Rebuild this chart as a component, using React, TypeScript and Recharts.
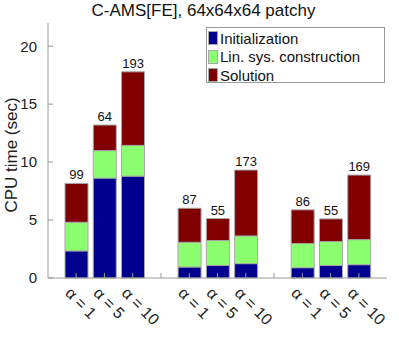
import React from "react";
import { BarChart, Bar, XAxis, YAxis, LabelList } from "recharts";

// run setups: three groups of alpha values, blank slots between groups
const categories = ["α = 1", "α = 5", "α = 10", "", "α = 1", "α = 5", "α = 10", "", "α = 1", "α = 5", "α = 10"];
const initTime = [2.34, 8.62, 8.79, null, 0.95, 1.09, 1.24, null, 0.89, 1.09, 1.15];
const linSysTime = [2.47, 2.37, 2.65, null, 2.13, 2.14, 2.39, null, 2.08, 2.05, 2.16];
const solutionTime = [3.35, 2.21, 6.35, null, 2.94, 1.9, 5.68, null, 2.91, 1.96, 5.57];
const iterations = [99, 64, 193, null, 87, 55, 173, null, 86, 55, 169];
const yTicks = [0, 5, 10, 15, 20];

const series = [
  { key: "init", name: "Initialization", color: "#00008f" },
  { key: "lin", name: "Lin. sys. construction", color: "#8cff70" },
  { key: "sol", name: "Solution", color: "#800000" },
];

const data = categories.map((name, i) => ({
  name,
  init: initTime[i],
  lin: linSysTime[i],
  sol: solutionTime[i],
  iters: iterations[i],
}));

const FONT = "'Liberation Sans', Arial, Helvetica, sans-serif";
const AXIS = "#999999";

const AlphaTick = (props: any) => {
  const { x, payload } = props;
  if (!payload.value) return null;
  const tx = x - 12;
  const ty = 294;
  return (
    <text
      x={tx}
      y={ty}
      transform={`rotate(45 ${tx} ${ty})`}
      fontSize={16}
      fill="#222"
      fontFamily={FONT}
      textAnchor="start"
      style={{ whiteSpace: "pre" }}
    >
      {payload.value}
    </text>
  );
};

export default function App() {
  return (
    <div style={{ position: "absolute", left: 0, top: 0, width: 399, height: 338, fontFamily: FONT, background: "#fff" }}>
      <div style={{ position: "absolute", left: 0, top: 1, width: 407, textAlign: "center", fontSize: 17, lineHeight: "20px", color: "#111" }}>
        C-AMS[FE], 64x64x64 patchy
      </div>
      <div
        style={{
          position: "absolute",
          left: 12,
          top: 155,
          transform: "translate(-50%, -50%) rotate(-90deg)",
          fontSize: 17,
          whiteSpace: "nowrap",
          color: "#222",
        }}
      >
        CPU time (sec)
      </div>
      <BarChart width={399} height={338} data={data} margin={{ top: 23, right: 12, left: 0, bottom: 0 }} barSize={23}>
        <XAxis
          dataKey="name"
          height={60}
          padding={{ left: 14, right: 14 }}
          stroke={AXIS}
          tickSize={-5}
          tickMargin={15}
          tick={<AlphaTick />}
          interval={0}
        />
        <XAxis
          xAxisId="top"
          dataKey="name"
          orientation="top"
          height={0}
          padding={{ left: 14, right: 14 }}
          stroke={AXIS}
          tickSize={-5}
          tick={false}
          interval={0}
        />
        <YAxis
          width={48}
          domain={[0, 22]}
          ticks={yTicks}
          stroke={AXIS}
          tickSize={-5}
          tickMargin={16}
          tick={{ fontSize: 15, fill: "#222", fontFamily: FONT }}
        />
        <YAxis yAxisId="right" orientation="right" width={0} domain={[0, 22]} ticks={yTicks} stroke={AXIS} tickSize={-5} tick={false} />
        {series.map((s, i) => (
          <Bar
            key={s.key}
            dataKey={s.key}
            name={s.name}
            stackId="t"
            fill={s.color}
            stroke="#a8a8a8"
            strokeWidth={1}
            isAnimationActive={false}
          >
            {i === series.length - 1 && (
              <LabelList dataKey="iters" position="top" offset={4} fontSize={13} fill="#111" fontFamily={FONT} />
            )}
          </Bar>
        ))}
      </BarChart>
      <div
        style={{
          position: "absolute",
          left: 206,
          top: 27,
          width: 176,
          height: 53,
          border: `1px solid ${AXIS}`,
          background: "#fff",
          fontSize: 15,
          color: "#111",
          padding: "1px 0 0 1px",
        }}
      >
        {series.map((s) => (
          <div key={s.key} style={{ display: "flex", alignItems: "center", height: 18.5 }}>
            <span style={{ display: "inline-block", width: 10, height: 14, background: s.color, border: "1px solid #a8a8a8", boxSizing: "border-box", marginRight: 2 }} />
            {s.name}
          </div>
        ))}
      </div>
    </div>
  );
}
